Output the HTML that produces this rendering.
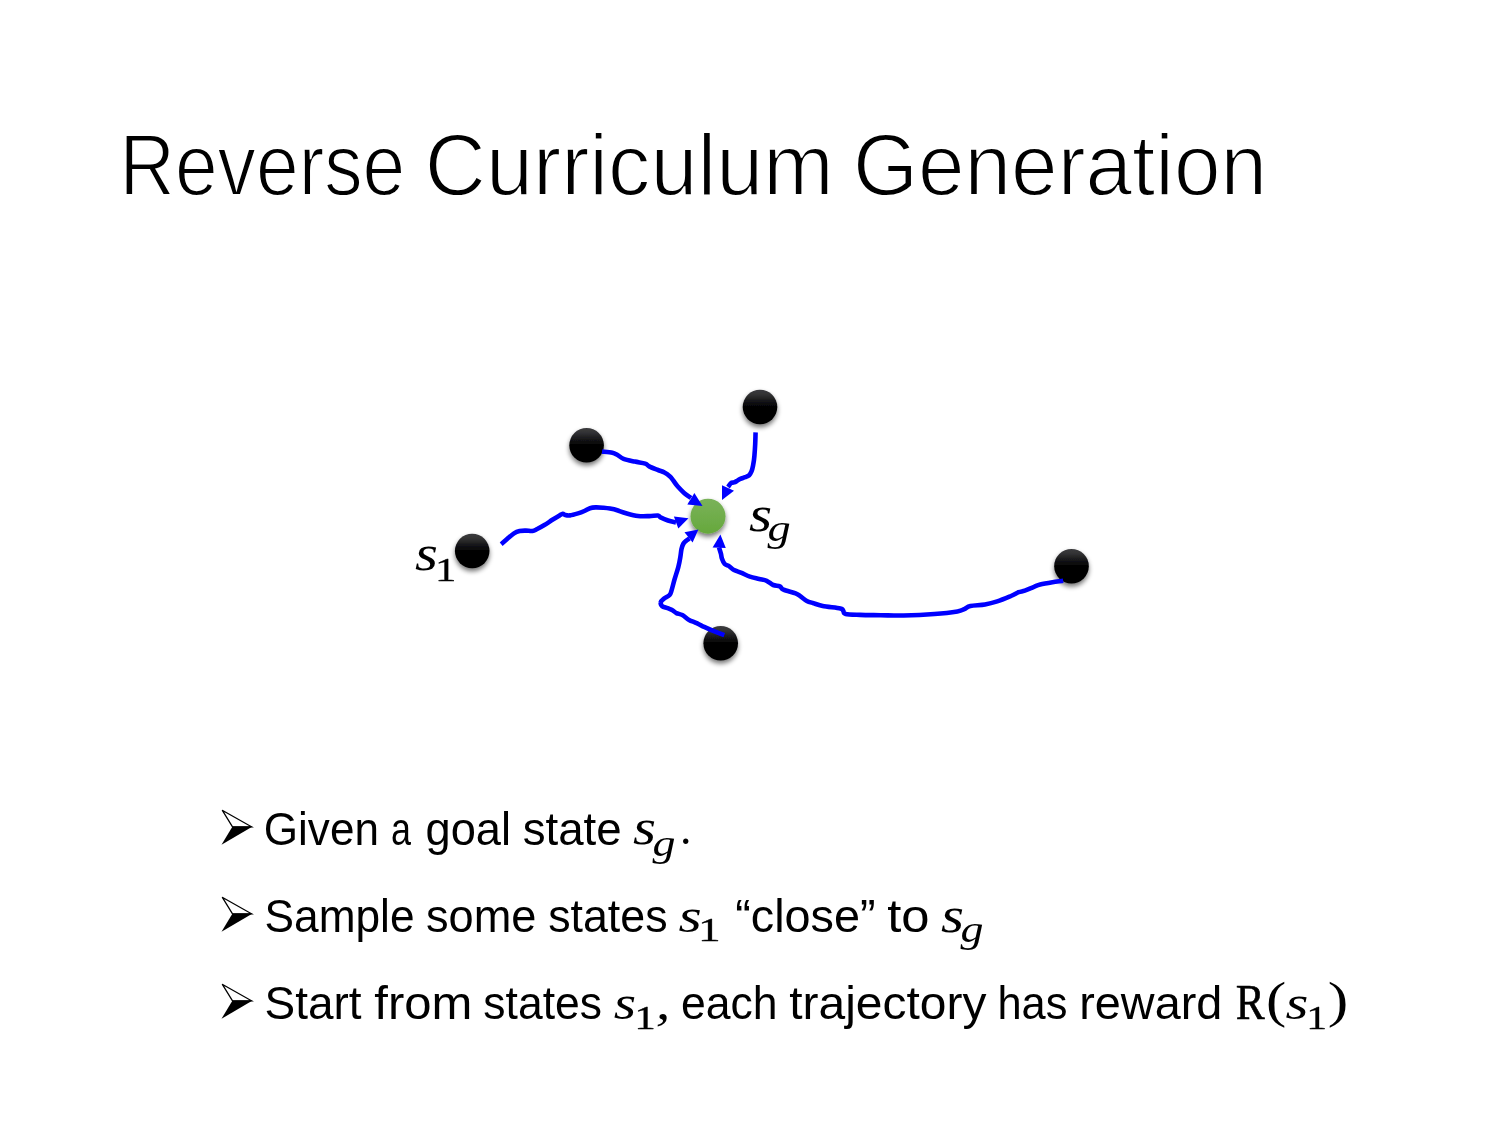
<!DOCTYPE html>
<html><head><meta charset="utf-8">
<style>
html,body{margin:0;padding:0;background:#fff;}
body{width:1500px;height:1125px;position:relative;overflow:hidden;font-family:"Liberation Sans",sans-serif;}
svg{position:absolute;left:0;top:0;will-change:transform;}
.ti{}
</style></head><body>
<svg width="1500" height="1125" viewBox="0 0 1500 1125">
<defs>
<linearGradient id="gb" x1="0" y1="0" x2="0" y2="1">
<stop offset="0.000" stop-color="rgb(58,58,60)"/><stop offset="0.055" stop-color="rgb(56,56,58)"/><stop offset="0.110" stop-color="rgb(52,52,54)"/><stop offset="0.165" stop-color="rgb(46,46,48)"/><stop offset="0.220" stop-color="rgb(38,38,40)"/><stop offset="0.275" stop-color="rgb(30,30,32)"/><stop offset="0.330" stop-color="rgb(22,22,24)"/><stop offset="0.385" stop-color="rgb(14,14,16)"/><stop offset="0.440" stop-color="rgb(8,8,10)"/><stop offset="0.495" stop-color="rgb(4,4,4)"/><stop offset="0.550" stop-color="rgb(2,2,2)"/><stop offset="1" stop-color="#000"/>
</linearGradient>
<linearGradient id="gg" x1="0" y1="0" x2="0" y2="1">
<stop offset="0" stop-color="#7ab25a"/><stop offset="1" stop-color="#66a83c"/>
</linearGradient>
<filter id="sh" x="-50%" y="-50%" width="200%" height="200%">
<feGaussianBlur in="SourceAlpha" stdDeviation="2.5"/>
<feOffset dx="0" dy="3" result="o"/>
<feComponentTransfer><feFuncA type="linear" slope="0.55"/></feComponentTransfer>
<feMerge><feMergeNode/><feMergeNode in="SourceGraphic"/></feMerge>
</filter>
</defs>
<g filter="url(#sh)">
<circle cx="760" cy="407" r="17.3" fill="url(#gb)"/>
<circle cx="586.6" cy="445.3" r="17.3" fill="url(#gb)"/>
<circle cx="472.2" cy="551" r="17.3" fill="url(#gb)"/>
<circle cx="720.7" cy="643.3" r="17.3" fill="url(#gb)"/>
<circle cx="1071.5" cy="566.2" r="17.3" fill="url(#gb)"/>
<circle cx="708" cy="516.2" r="17.5" fill="url(#gg)"/>
</g>
<g fill="none" stroke="#0000ff" stroke-width="4.6" stroke-linejoin="round">
<path d="M602.0,451.6 C603.7,451.8 609.9,452.3 612.4,452.8 C614.9,453.3 615.3,453.8 617.2,454.8 C619.1,455.8 620.7,457.7 623.6,458.8 C626.5,459.9 631.2,460.8 634.8,461.6 C638.4,462.4 642.8,462.8 645.2,463.6 C647.6,464.4 647.1,465.3 649.2,466.4 C651.3,467.5 655.5,469.0 658.0,470.0 C660.5,471.0 662.4,471.3 664.4,472.4 C666.4,473.5 668.5,475.1 670.0,476.4 C671.5,477.7 671.9,478.7 673.2,480.4 C674.5,482.1 676.1,484.7 678.0,486.8 C679.9,488.9 682.2,491.3 684.4,493.2 C686.6,495.1 689.9,497.2 691.0,498.0"/>
<path d="M755.6,432.4 C755.5,434.3 755.4,440.1 755.2,444.0 C755.0,447.9 754.7,452.5 754.4,456.0 C754.1,459.5 753.7,462.3 753.2,464.8 C752.7,467.3 752.3,469.5 751.6,471.2 C750.9,472.9 750.3,474.2 749.2,475.2 C748.1,476.2 746.7,476.6 745.2,477.2 C743.7,477.8 741.7,478.2 740.4,478.8 C739.1,479.4 738.3,480.2 737.2,480.8 C736.1,481.4 735.1,482.0 734.0,482.4 C732.9,482.8 731.8,482.4 730.8,483.2 C729.8,484.0 728.5,486.4 728.0,487.0"/>
<path d="M501.2,544.2 C502.3,543.3 505.5,540.4 507.6,538.6 C509.7,536.8 512.0,534.7 514.0,533.4 C516.0,532.1 517.6,531.5 519.6,531.0 C521.6,530.5 523.9,530.6 526.0,530.6 C528.1,530.6 530.5,531.3 532.4,531.0 C534.3,530.7 535.2,530.0 537.2,529.0 C539.2,528.0 541.9,526.5 544.4,525.0 C546.9,523.5 549.9,521.4 552.4,519.8 C554.9,518.2 557.9,516.4 559.6,515.4 C561.3,514.4 561.9,513.9 562.8,513.8 C563.7,513.7 564.0,514.7 565.2,515.0 C566.4,515.3 567.9,515.7 570.0,515.4 C572.1,515.1 575.6,514.1 578.0,513.4 C580.4,512.7 582.4,511.9 584.4,511.0 C586.4,510.1 588.1,508.8 590.0,508.2 C591.9,507.6 593.3,507.5 595.6,507.4 C597.9,507.3 601.2,507.6 603.6,507.8 C606.0,508.0 607.9,508.2 610.0,508.6 C612.1,509.0 613.7,509.2 616.4,510.0 C619.1,510.8 622.4,512.2 626.0,513.2 C629.6,514.2 634.1,515.5 638.0,516.0 C641.9,516.5 646.0,516.2 649.3,516.1 C652.6,516.0 656.1,515.3 658.0,515.5 C659.9,515.7 658.8,516.6 660.5,517.4 C662.2,518.2 665.4,519.6 668.0,520.5 C670.6,521.4 674.7,522.2 676.0,522.5"/>
<path d="M724.3,635.1 C722.3,634.4 716.2,632.2 712.6,630.7 C709.0,629.2 705.6,627.6 702.8,626.3 C700.0,625.0 698.3,624.0 696.0,622.9 C693.7,621.8 691.4,621.2 689.1,619.9 C686.8,618.6 684.4,616.1 682.3,615.0 C680.2,613.9 678.0,613.9 676.4,613.1 C674.8,612.3 674.0,611.0 672.5,610.2 C671.0,609.4 669.3,608.9 667.6,608.2 C665.9,607.5 663.3,607.2 662.2,606.2 C661.1,605.2 660.5,603.5 660.8,602.3 C661.0,601.1 662.2,600.1 663.7,598.9 C665.2,597.7 668.3,596.4 669.6,595.0 C670.9,593.6 670.7,593.1 671.5,590.6 C672.3,588.1 673.3,583.8 674.4,579.9 C675.5,576.0 677.3,570.9 678.3,567.1 C679.3,563.4 679.8,560.4 680.3,557.4 C680.8,554.4 681.0,551.3 681.5,549.0 C682.0,546.7 682.7,544.9 683.5,543.5 C684.3,542.1 685.5,541.3 686.5,540.5 C687.5,539.7 689.0,538.8 689.5,538.5"/>
<path d="M1063.2,580.7 C1061.4,581.0 1056.3,581.6 1052.5,582.2 C1048.7,582.8 1043.3,583.7 1040.2,584.5 C1037.1,585.3 1036.6,585.8 1034.0,586.8 C1031.4,587.8 1027.3,589.8 1024.8,590.7 C1022.2,591.6 1021.0,591.3 1018.7,592.2 C1016.4,593.1 1014.6,594.5 1011.0,596.0 C1007.4,597.5 1001.5,600.0 997.2,601.4 C992.9,602.8 989.5,603.7 985.0,604.5 C980.5,605.3 973.9,605.2 970.4,606.0 C966.9,606.8 966.5,608.2 964.3,609.1 C962.1,610.0 962.4,610.6 957.4,611.4 C952.4,612.2 943.3,613.3 934.4,614.0 C925.5,614.7 912.7,615.3 903.7,615.5 C894.8,615.7 888.0,615.3 880.7,615.2 C873.4,615.1 865.9,615.1 860.0,614.9 C854.1,614.7 848.4,614.7 845.6,614.0 C842.8,613.3 844.1,611.6 843.2,610.7 C842.3,609.8 843.8,609.2 840.4,608.4 C837.0,607.6 827.2,606.9 822.7,606.0 C818.2,605.1 816.0,604.1 813.4,603.2 C810.8,602.4 809.0,602.1 806.8,600.9 C804.6,599.7 802.2,597.5 800.3,596.2 C798.4,595.0 798.4,594.5 795.6,593.4 C792.8,592.3 786.1,590.9 783.5,589.7 C780.9,588.5 781.5,587.2 779.8,586.4 C778.1,585.6 775.4,585.9 773.2,585.0 C771.0,584.1 769.0,581.8 766.7,580.8 C764.4,579.8 762.0,579.6 759.2,578.9 C756.4,578.2 752.9,577.6 749.9,576.6 C746.9,575.6 744.1,574.0 741.5,572.9 C738.9,571.8 736.0,571.2 734.0,570.1 C732.0,569.0 730.8,567.3 729.3,566.3 C727.8,565.3 725.9,565.3 724.7,564.0 C723.5,562.7 722.5,560.1 721.9,558.4 C721.3,556.7 721.4,555.5 720.9,553.7 C720.4,551.9 719.3,548.5 719.0,547.5"/>
</g>
<g fill="#0000ff">
<polygon points="702.5,505.9 694.4,493.1 687.3,504.6"/>
<polygon points="722,500 722,485.2 734,490.8"/>
<polygon points="688.5,518.3 673.9,516.4 678.3,528.6"/>
<polygon points="698.4,529.6 684.5,532.3 692.6,542.6"/>
<polygon points="720.4,534.4 712.6,547.6 725.8,548.1"/>
</g>

<g fill="#000">
<text font-family="Liberation Sans" font-size="86.67" transform="translate(119.46,194.90) scale(0.8856,1)" stroke="#fff" stroke-width="1.8">Reverse</text>
<text font-family="Liberation Sans" font-size="86.67" transform="translate(424.87,194.90) scale(0.9759,1)" stroke="#fff" stroke-width="1.8">Curriculum</text>
<text font-family="Liberation Sans" font-size="86.67" transform="translate(852.92,194.90) scale(0.9656,1)" stroke="#fff" stroke-width="1.8">Generation</text>
<text font-family="Liberation Sans" font-size="46.50" transform="translate(263.80,845.00) scale(0.9481,1)">Given</text>
<text font-family="Liberation Sans" font-size="46.50" transform="translate(391.09,845.00) scale(0.7717,1)">a</text>
<text font-family="Liberation Sans" font-size="46.50" transform="translate(425.49,845.00) scale(0.9723,1)">goal</text>
<text font-family="Liberation Sans" font-size="46.50" transform="translate(522.63,845.00) scale(0.9827,1)">state</text>
<text font-family="Liberation Serif" font-style="italic" font-size="49.58" transform="translate(633.11,844.30) scale(1.1925,1)">s</text>
<text font-family="Liberation Serif" font-style="italic" font-size="38.54" transform="translate(652.40,855.71) scale(1.1925,1)">g</text>
<text font-family="Liberation Serif" font-size="45.83" transform="translate(680.02,844.31) scale(1.0000,1)">.</text>
<text font-family="Liberation Sans" font-size="46.50" transform="translate(264.61,932.00) scale(0.9508,1)">Sample</text>
<text font-family="Liberation Sans" font-size="46.50" transform="translate(425.94,932.00) scale(0.9718,1)">some</text>
<text font-family="Liberation Sans" font-size="46.50" transform="translate(548.16,932.00) scale(0.9626,1)">states</text>
<text font-family="Liberation Sans" font-size="46.50" transform="translate(735.26,932.00) scale(1.0063,1)">“close”</text>
<text font-family="Liberation Sans" font-size="46.50" transform="translate(887.14,932.00) scale(1.0918,1)">to</text>
<text font-family="Liberation Serif" font-style="italic" font-size="49.58" transform="translate(678.40,931.50) scale(1.2042,1)">s</text>
<text font-family="Liberation Serif" font-size="32.88" transform="translate(698.06,941.35) scale(1.3817,1)" stroke="#000" stroke-width="0.3" stroke-linejoin="round">1</text>
<text font-family="Liberation Serif" font-style="italic" font-size="49.58" transform="translate(941.11,931.50) scale(1.1925,1)">s</text>
<text font-family="Liberation Serif" font-style="italic" font-size="38.54" transform="translate(960.40,941.71) scale(1.1925,1)">g</text>
<text font-family="Liberation Sans" font-size="46.50" transform="translate(264.53,1019.00) scale(0.9876,1)">Start</text>
<text font-family="Liberation Sans" font-size="46.50" transform="translate(374.36,1019.00) scale(1.0545,1)">from</text>
<text font-family="Liberation Sans" font-size="46.50" transform="translate(483.37,1019.00) scale(0.9560,1)">states</text>
<text font-family="Liberation Sans" font-size="46.50" transform="translate(680.90,1019.00) scale(0.9575,1)">each</text>
<text font-family="Liberation Sans" font-size="46.50" transform="translate(789.28,1019.00) scale(1.0311,1)">trajectory</text>
<text font-family="Liberation Sans" font-size="46.50" transform="translate(997.46,1019.00) scale(0.9331,1)">has</text>
<text font-family="Liberation Sans" font-size="46.50" transform="translate(1079.26,1019.00) scale(1.0065,1)">reward</text>
<text font-family="Liberation Serif" font-style="italic" font-size="49.58" transform="translate(613.64,1018.50) scale(1.1575,1)">s</text>
<text font-family="Liberation Serif" font-size="33.18" transform="translate(634.17,1028.55) scale(1.3002,1)" stroke="#000" stroke-width="0.3" stroke-linejoin="round">1</text>
<text font-family="Liberation Serif" font-style="italic" font-size="49.02" transform="translate(655.65,1019.15) scale(1.1968,1)">,</text>
<text font-family="Liberation Serif" font-size="51.15" transform="translate(1235.80,1018.70) scale(0.8498,1)" stroke="#000" stroke-width="0.6" stroke-linejoin="round">R</text>
<text font-family="Liberation Serif" font-size="50.99" transform="translate(1266.06,1016.64) scale(1.1921,1)">(</text>
<text font-family="Liberation Serif" font-style="italic" font-size="49.58" transform="translate(1285.52,1018.50) scale(1.1867,1)">s</text>
<text font-family="Liberation Serif" font-size="33.18" transform="translate(1306.30,1028.55) scale(1.2571,1)" stroke="#000" stroke-width="0.3" stroke-linejoin="round">1</text>
<text font-family="Liberation Serif" font-size="51.56" transform="translate(1327.75,1016.77) scale(1.1936,1)">)</text>
<text font-family="Liberation Serif" font-style="italic" font-size="50.62" transform="translate(415.12,570.49) scale(1.1623,1)">s</text>
<text font-family="Liberation Serif" font-size="34.39" transform="translate(434.99,580.85) scale(1.2461,1)" stroke="#000" stroke-width="0.3" stroke-linejoin="round">1</text>
<text font-family="Liberation Serif" font-style="italic" font-size="50.63" transform="translate(749.11,530.59) scale(1.1737,1)">s</text>
<text font-family="Liberation Serif" font-style="italic" font-size="38.10" transform="translate(767.40,540.61) scale(1.2173,1)">g</text>
</g>
<polygon points="222.2,810.2 251.5,826.8 232.5,826.8" fill="#fff" stroke="#000" stroke-width="1.3" stroke-linejoin="miter"/><polygon points="232.5,826.5 252.6,826.5 221.5,844.8" fill="#000"/><polygon points="222.2,897.2 251.5,913.8 232.5,913.8" fill="#fff" stroke="#000" stroke-width="1.3" stroke-linejoin="miter"/><polygon points="232.5,913.5 252.6,913.5 221.5,931.8" fill="#000"/><polygon points="222.2,984.2 251.5,1000.8 232.5,1000.8" fill="#fff" stroke="#000" stroke-width="1.3" stroke-linejoin="miter"/><polygon points="232.5,1000.5 252.6,1000.5 221.5,1018.8" fill="#000"/>
</svg>
</body></html>
